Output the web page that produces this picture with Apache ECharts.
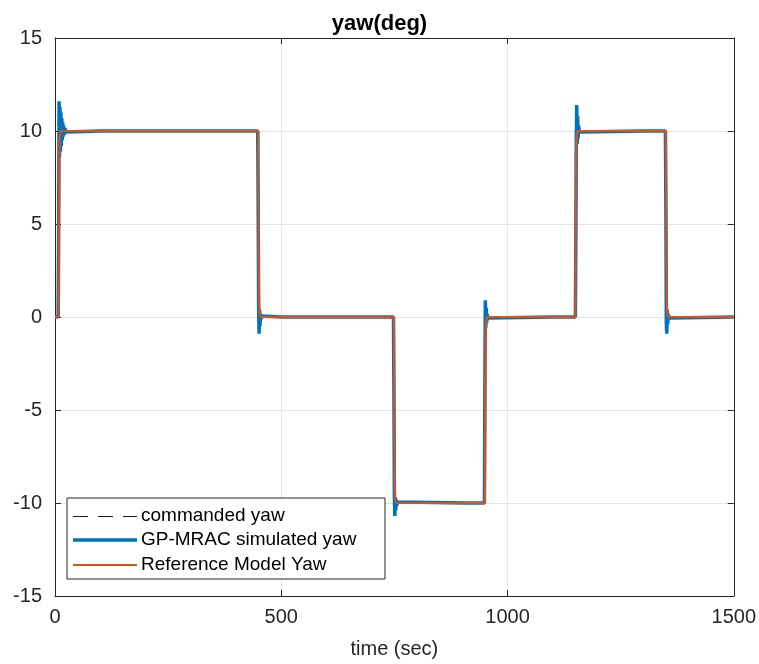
<!DOCTYPE html>
<html>
<head>
<meta charset="utf-8">
<script src="https://cdn.jsdelivr.net/npm/echarts@6/dist/echarts.min.js"></script>
<style>html,body{margin:0;padding:0;background:#fff;}#c{width:759px;height:664px;}</style>
</head>
<body>
<div id="c"></div>
<script>
// Commanded yaw (step command)
const cmdT = [0, 8, 8, 449, 449, 749, 749, 950, 950, 1150, 1150, 1350, 1350, 1500];
const cmdV = [0, 0, 10, 10, 0, 0, -10, -10, 0, 0, 10, 10, 0, 0];

// GP-MRAC simulated yaw
const simT = [0, 7, 8, 9, 10, 11, 12, 13, 14, 15, 16, 17, 18, 19, 20, 22, 24, 28, 100, 101, 102, 310, 311, 312,
  448, 449, 450, 451, 452, 453, 454, 455, 457, 460, 500, 501, 502, 660, 661, 662, 705, 706, 707,
  748, 749, 750, 751, 752, 753, 754, 755, 757, 760, 908, 909, 910,
  949, 950, 951, 952, 953, 954, 955, 957, 960, 1100, 1101, 1102,
  1150, 1151, 1152, 1153, 1154, 1155, 1156, 1157, 1159, 1162, 1300, 1301, 1302,
  1349, 1350, 1351, 1352, 1353, 1354, 1355, 1357, 1360, 1500];
const simV = [0, 0, 4, 11.6, 8.6, 11.3, 8.9, 11.0, 9.2, 10.7, 9.5, 10.5, 9.7, 10.3, 9.8, 10.15, 9.95, 10, 10, 10.08, 10, 10, 10.06, 10,
  10, 6, 0.5, -0.9, 0.4, -0.5, 0.2, -0.1, 0.05, 0, 0, -0.06, 0, 0, 0.04, 0, 0, 0.1, 0,
  0, -4, -9.6, -10.7, -9.7, -10.4, -9.8, -10.15, -9.95, -10, -10, -9.9, -10,
  -10, -4, 0.9, -0.6, 0.5, -0.3, 0.15, -0.05, 0, 0, 0.05, 0,
  0, 4, 9.2, 11.4, 9.3, 10.8, 9.6, 10.3, 9.95, 10, 10, 10.06, 10,
  10, 6, -0.3, -0.9, 0.4, -0.4, 0.15, -0.05, 0, 0];

// Reference model yaw
const refT = [0, 8, 9, 10, 11, 13, 449, 450, 451, 452, 454, 749, 750, 751, 752, 754, 950, 951, 952, 953, 955, 1150, 1151, 1152, 1153, 1155, 1350, 1351, 1352, 1353, 1355, 1500];
const refV = [0, 0, 6.5, 9.2, 9.8, 10, 10, 3.5, 0.8, 0.2, 0, 0, -6.5, -9.2, -9.8, -10, -10, -3.5, -0.8, -0.2, 0, 0, 6.5, 9.2, 9.8, 10, 10, 3.5, 0.8, 0.2, 0, 0];

const xTicks = [0, 500, 1000, 1500];
const yTicks = [-15, -10, -5, 0, 5, 10, 15];
const legendNames = ['commanded yaw', 'GP-MRAC simulated yaw', 'Reference Model Yaw'];

const zip = (t, v) => t.map((x, i) => [x, v[i]]);
const FONT = 'Liberation Sans';
const AX = '#262626';
const C_CMD = '#000000', C_SIM = '#0072BD', C_REF = '#D95319';

const baseAxis = {
  axisLine: {show: true, onZero: false, lineStyle: {color: AX, width: 1}},
  axisTick: {show: true, inside: true, length: 6, lineStyle: {color: AX}},
};

const chart = echarts.init(document.getElementById('c'), null, {renderer: 'canvas'});

// legend built from graphic elements (box + sample lines + real text)
const lgX = 67, lgY = 498, lgW = 318, lgH = 81, rowY = [516, 540, 565];
const legendGraphic = [
  {type: 'rect', shape: {x: lgX, y: lgY, width: lgW, height: lgH}, style: {fill: '#fff', stroke: AX, lineWidth: 1}, z: 100},
  {type: 'line', shape: {x1: 73, y1: rowY[0] + 0.5, x2: 137, y2: rowY[0] + 0.5}, style: {stroke: '#1a1a1a', lineWidth: 1, lineDash: [15, 10]}, z: 101},
  {type: 'line', shape: {x1: 73, y1: rowY[1], x2: 137, y2: rowY[1]}, style: {stroke: C_SIM, lineWidth: 3.5}, z: 101},
  {type: 'line', shape: {x1: 73, y1: rowY[2], x2: 137, y2: rowY[2]}, style: {stroke: C_REF, lineWidth: 2}, z: 101}
];
legendNames.forEach((n, i) => legendGraphic.push({
  type: 'text', x: 141, y: rowY[i], z: 101,
  style: {text: n, fill: '#000', font: '19px "Liberation Sans"', textVerticalAlign: 'middle', verticalAlign: 'middle'}
}));

chart.setOption({
  animation: false,
  backgroundColor: '#fff',
  title: {
    text: 'yaw(deg)', left: 'center', top: 8,
    textStyle: {fontFamily: FONT, fontSize: 22, fontWeight: 'bold', color: '#000'}
  },
  grid: {left: 55, right: 24, top: 38, bottom: 67, show: false},
  xAxis: [{
    ...baseAxis,
    type: 'value', min: xTicks[0], max: xTicks[xTicks.length - 1], interval: 500,
    name: 'time (sec)', nameLocation: 'middle', nameGap: 43,
    nameTextStyle: {fontFamily: FONT, fontSize: 20, color: AX},
    axisLabel: {fontFamily: FONT, fontSize: 20, color: AX, margin: 11, formatter: v => String(v)},
    splitLine: {show: true, lineStyle: {color: '#e5e5e5', width: 1}}
  }, {
    ...baseAxis,
    type: 'value', position: 'top', min: xTicks[0], max: xTicks[xTicks.length - 1], interval: 500,
    axisLabel: {show: false}, splitLine: {show: false}
  }],
  yAxis: [{
    ...baseAxis,
    type: 'value', min: yTicks[0], max: yTicks[yTicks.length - 1], interval: 5,
    axisLabel: {fontFamily: FONT, fontSize: 20, color: AX, margin: 13},
    splitLine: {show: true, lineStyle: {color: '#e5e5e5', width: 1}}
  }, {
    ...baseAxis,
    type: 'value', position: 'right', min: yTicks[0], max: yTicks[yTicks.length - 1], interval: 5,
    axisLabel: {show: false}, splitLine: {show: false}
  }],
  series: [
    {name: legendNames[0], type: 'line', data: zip(cmdT, cmdV), showSymbol: false, symbol: 'none',
     lineStyle: {color: C_CMD, width: 1, type: [14, 10]}, itemStyle: {color: C_CMD}, z: 2},
    {name: legendNames[1], type: 'line', data: zip(simT, simV), showSymbol: false, symbol: 'none',
     lineStyle: {color: C_SIM, width: 3.5}, itemStyle: {color: C_SIM}, z: 3},
    {name: legendNames[2], type: 'line', data: zip(refT, refV), showSymbol: false, symbol: 'none',
     lineStyle: {color: C_REF, width: 2.2}, itemStyle: {color: C_REF}, z: 4}
  ],
  graphic: legendGraphic
});
</script>
</body>
</html>
